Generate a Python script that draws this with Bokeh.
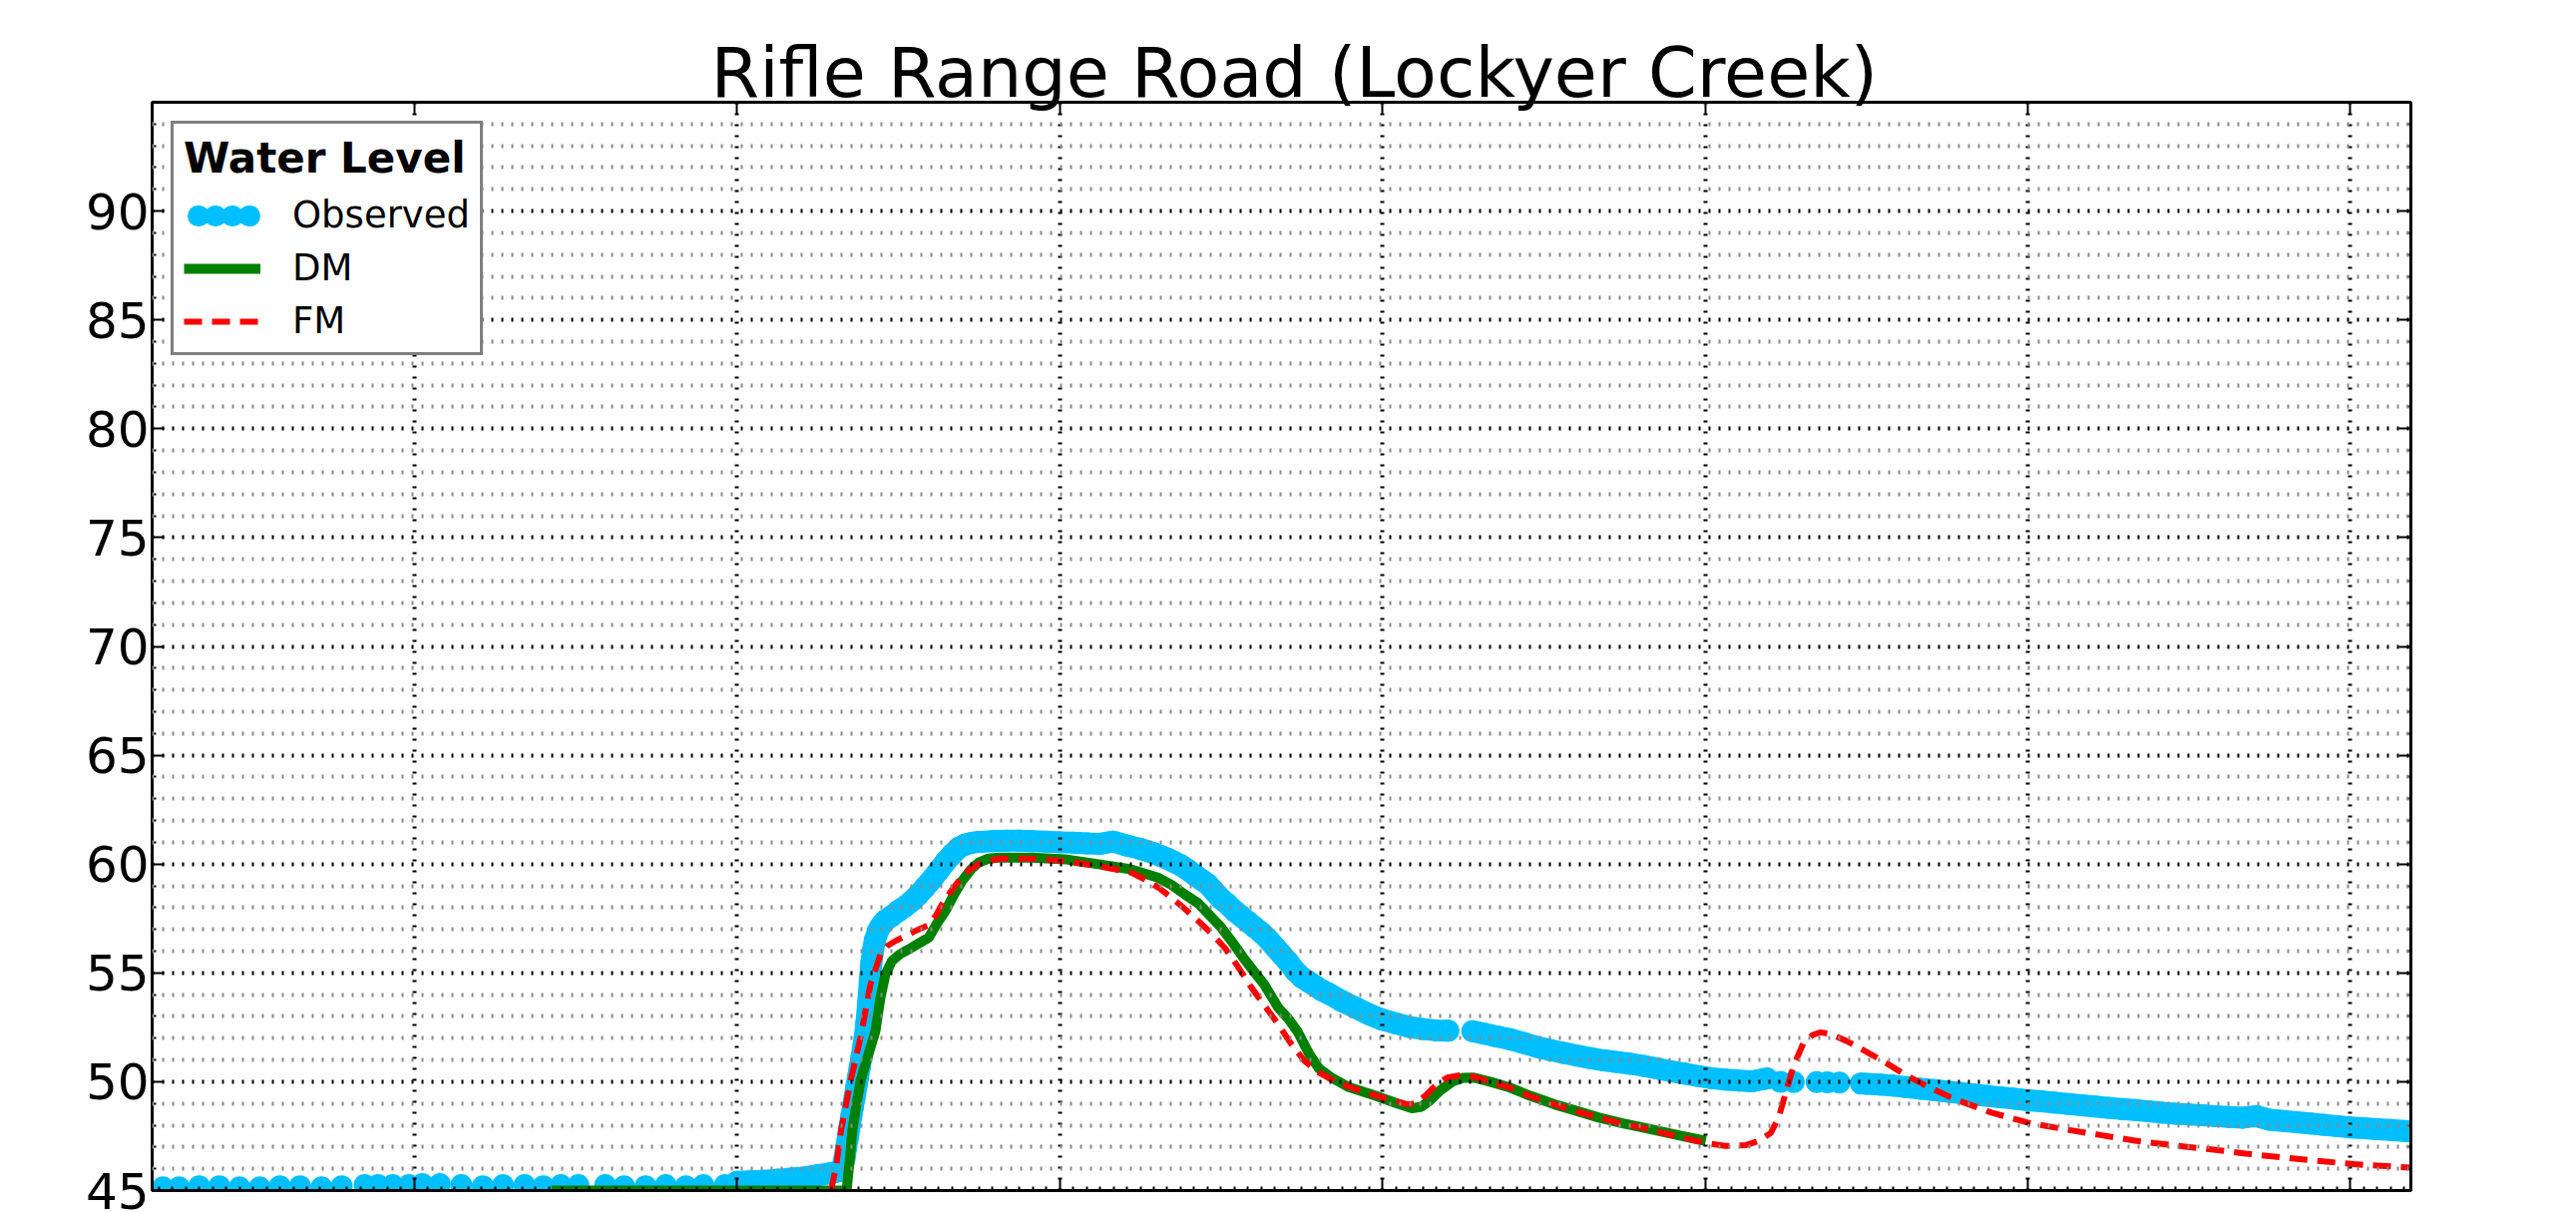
from bokeh.plotting import figure
from bokeh.models import FixedTicker, LinearAxis, Range1d, Legend, LegendItem
from bokeh.embed import file_html
from bokeh.resources import INLINE

# ---------------- data (hours since first midnight, water level) ----------------
obs_hours = [
    -18.7, -17.5, -16.0, -14.5, -13.0, -11.5, -10.0, -8.5, -6.9, -5.4,
    -3.7, -2.7, -1.6, -0.4, 0.6, 1.9, 3.5, 5.1, 6.6, 8.2,
    9.6, 10.9, 12.2, 14.2, 15.6, 17.2, 18.7, 20.2, 21.5, 23.1,
    24, 25, 26, 27, 28, 29, 30, 31, 31.5, 31.8,
    32.0, 32.125, 32.25, 32.375, 32.5, 32.625, 32.75, 32.875, 33.0, 33.125,
    33.25, 33.375, 33.5, 33.625, 33.75, 33.875, 34.0, 34.125, 34.25, 34.5,
    34.75, 35.0, 35.5, 36.0, 36.5, 37.0, 37.5, 38.0, 38.5, 39.0,
    39.5, 40.0, 40.5, 41.0, 41.5, 42.0, 43, 44, 45, 46,
    47, 48, 49, 50, 51, 52, 53, 54, 55, 55.5,
    56, 56.5, 57, 57.5, 58, 58.5, 59, 59.5, 60, 60.5,
    61, 61.5, 62, 62.5, 63, 63.5, 64, 64.5, 65, 65.5,
    66, 66.5, 67, 67.5, 68, 69, 70, 71, 72, 73,
    74, 75, 76, 76.9, 78.7, 79.5, 80.5, 81.5, 82.5, 83.5,
    84.5, 85.5, 86.5, 87.5, 88.5, 89.5, 90.5, 91.5, 92.5, 93.5,
    94.5, 95.5, 96.5, 97.5, 98.5, 99.5, 100.6, 101.6, 102.6, 104.3,
    105.1, 106.0, 107.6, 108, 109, 110, 111, 112, 113, 114,
    115, 116, 117, 118, 119, 120, 121, 122, 123, 124,
    125, 126, 127, 128, 129, 130, 131, 132, 133, 134,
    135, 136, 137, 138, 139, 140, 141, 142, 143, 144,
    145, 146, 147, 148, 148.5,
]
obs_level = [
    45.15, 45.15, 45.2, 45.2, 45.15, 45.15, 45.2, 45.2, 45.15, 45.2,
    45.25, 45.25, 45.25, 45.25, 45.3, 45.3, 45.25, 45.2, 45.25, 45.25,
    45.2, 45.25, 45.25, 45.25, 45.2, 45.2, 45.25, 45.2, 45.25, 45.25,
    45.4, 45.42, 45.45, 45.5, 45.55, 45.6, 45.7, 45.8, 45.88, 45.95,
    46.5, 47.0, 47.45, 47.95, 48.4, 48.85, 49.3, 49.75, 50.2, 50.65,
    51.1, 51.55, 52.05, 52.7, 53.6, 54.6, 55.5, 56.05, 56.5, 56.95,
    57.2, 57.4, 57.6, 57.85, 58.05, 58.3, 58.6, 58.95, 59.3, 59.7,
    60.1, 60.45, 60.75, 60.9, 60.98, 61.02, 61.05, 61.07, 61.07, 61.05,
    61.03, 61.0, 60.98, 60.95, 60.93, 61.03, 60.85, 60.7, 60.5, 60.38,
    60.25, 60.1, 59.95, 59.75, 59.52, 59.3, 59.08, 58.75, 58.4, 58.15,
    57.85, 57.6, 57.35, 57.1, 56.85, 56.55, 56.2, 55.85, 55.5, 55.1,
    54.8, 54.6, 54.4, 54.2, 54.05, 53.7, 53.4, 53.1, 52.85, 52.68,
    52.52, 52.42, 52.36, 52.34, 52.32, 52.22, 52.08, 51.95, 51.78, 51.6,
    51.45, 51.32, 51.2, 51.08, 50.98, 50.9, 50.82, 50.72, 50.6, 50.48,
    50.37, 50.26, 50.16, 50.1, 50.05, 50.02, 50.15, 49.99, 49.98, 49.98,
    49.97, 49.96, 49.92, 49.9, 49.87, 49.82, 49.75, 49.68, 49.62, 49.55,
    49.48, 49.41, 49.35, 49.28, 49.22, 49.15, 49.1, 49.04, 48.98, 48.92,
    48.86, 48.8, 48.75, 48.7, 48.64, 48.58, 48.53, 48.49, 48.46, 48.42,
    48.38, 48.35, 48.42, 48.25, 48.2, 48.14, 48.08, 48.02, 47.96, 47.9,
    47.86, 47.82, 47.78, 47.74, 47.72,
]
# stretches where the gauge logged densely enough to form a continuous band
obs_dense_spans = [(24, 76.9), (78.7, 100.6), (107.6, 148.5)]

dm_hours = [
    10.2, 32.15, 32.4, 32.57, 32.9, 33.19, 33.55, 33.93, 34.3, 34.67,
    35.04, 35.53, 36.1, 36.77, 37.5, 38.26, 38.9, 39.5, 40.1, 40.73,
    41.4, 41.97, 42.7, 43.45, 45.9, 48.4, 50.9, 53.3, 55.3, 56.3,
    57.3, 58.3, 59.0, 60.0, 60.8, 61.6, 62.4, 63.2, 64.25, 65.0,
    65.7, 66.57, 67.3, 68.22, 69.5, 71.5, 73.0, 74.2, 74.9, 75.5,
    76.3, 77.2, 78.0, 78.8, 80.0, 81.5, 83.0, 84.8, 86.5, 88.1,
    89.8, 91.4, 93.7, 96.05,
]
dm_level = [
    45.0, 45.0, 46.5, 47.74, 49.0, 50.04, 50.8, 51.57, 52.34, 53.87,
    54.94, 55.55, 55.85, 56.08, 56.35, 56.62, 57.3, 57.85, 58.55, 59.22,
    59.75, 60.07, 60.25, 60.3, 60.3, 60.22, 59.99, 59.76, 59.38, 59.05,
    58.61, 58.2, 57.75, 57.1, 56.45, 55.75, 55.1, 54.48, 53.41, 52.9,
    52.3, 51.26, 50.6, 50.19, 49.75, 49.35, 49.02, 48.78, 48.85, 49.12,
    49.6, 50.0, 50.18, 50.19, 50.0, 49.73, 49.35, 48.96, 48.65, 48.35,
    48.1, 47.89, 47.58, 47.28,
]

fm_hours = [
    31.0, 31.4, 31.75, 32.45, 33.19, 33.93, 34.67, 35.2, 35.79, 37.27,
    38.26, 38.8, 39.24, 39.9, 40.48, 41.2, 41.97, 43.45, 45.92, 48.4,
    50.87, 53.34, 54.58, 55.5, 56.31, 57.3, 58.3, 59.3, 60.28, 61.3,
    62.27, 63.3, 64.25, 65.2, 66.2, 67.2, 68.22, 69.8, 71.54, 73.85,
    74.5, 75.18, 76.0, 76.83, 77.8, 78.83, 80.0, 81.47, 83.0, 84.77,
    86.5, 88.1, 89.8, 91.4, 93.7, 96.05, 97.5, 99.0, 100.0, 100.9,
    101.5, 102.0, 102.6, 103.3, 104.0, 104.6, 105.3, 106.5, 108.0, 109.5,
    111.0, 112.5, 114.6, 117.3, 120.0, 122.7, 125.4, 128.1, 130.8, 133.5,
    136.2, 138.9, 141.6, 144.3, 148.5,
]
fm_level = [
    45.0, 46.2, 47.8, 50.04, 52.03, 54.48, 55.85, 56.25, 56.47, 56.93,
    57.2, 57.65, 58.15, 58.75, 59.22, 59.7, 59.99, 60.25, 60.25, 60.14,
    59.91, 59.61, 59.22, 58.85, 58.46, 57.95, 57.39, 56.8, 56.16, 55.25,
    54.32, 53.45, 52.64, 51.75, 50.96, 50.45, 50.11, 49.7, 49.35, 48.96,
    49.0, 49.35, 49.85, 50.19, 50.3, 50.22, 50.0, 49.73, 49.33, 48.96,
    48.62, 48.35, 48.08, 47.87, 47.52, 47.18, 47.05, 47.08, 47.28, 47.65,
    48.4, 49.5, 50.75, 51.75, 52.15, 52.27, 52.2, 51.88, 51.38, 50.85,
    50.28, 49.8, 49.19, 48.58, 48.12, 47.82, 47.55, 47.28, 47.08, 46.9,
    46.7, 46.52, 46.36, 46.21, 46.05,
]

x_major = [0, 24, 48, 72, 96, 120, 144]
x_minor = [h for h in range(-19, 149) if h % 24 != 0]
y_major = [45, 50, 55, 60, 65, 70, 75, 80, 85, 90]
y_labels = ["45", "50", "55", "60", "65", "70", "75", "80", "85", "90"]
y_minor = [v for v in range(46, 95) if v % 5 != 0]

OBS_COLOR = "#00BFFF"
DM_COLOR = "#008000"
FM_COLOR = "#FF0000"
FONT = "DejaVu Sans"
OBS_SIZE = 22

p = figure(width=2576, height=1215, output_backend="svg", toolbar_location=None,
           x_range=Range1d(-19.5, 148.5), y_range=Range1d(45, 95),
           min_border_left=152, min_border_right=160, min_border_top=102,
           min_border_bottom=22)
p.background_fill_color = "white"
p.border_fill_color = "white"
p.outline_line_color = "black"
p.outline_line_width = 3

p.title.text = "Rifle Range Road (Lockyer Creek)"
p.title.align = "left"
p.title.offset = 560
p.title.text_font = FONT
p.title.text_font_size = "70px"
p.title.text_font_style = "normal"
p.title.text_color = "black"
p.title.standoff = -23

xt = FixedTicker(ticks=x_major, minor_ticks=x_minor)
yt = FixedTicker(ticks=y_major, minor_ticks=y_minor)

x_bottom = p.xaxis[0]
y_left = p.yaxis[0]
x_top = LinearAxis()
y_right = LinearAxis()
p.add_layout(x_top, "above")
p.add_layout(y_right, "right")


def style_axis(ax, ticker, minor_len, show_labels):
    ax.ticker = ticker
    ax.axis_line_color = "black"
    ax.axis_line_width = 3
    ax.major_tick_line_color = "black"
    ax.major_tick_line_width = 2
    ax.major_tick_in = 12
    ax.major_tick_out = 0
    ax.minor_tick_line_color = "black" if minor_len else None
    ax.minor_tick_line_width = 2
    ax.minor_tick_in = minor_len
    ax.minor_tick_out = 0
    if show_labels:
        ax.major_label_overrides = {t: s for t, s in zip(y_major, y_labels)}
        ax.major_label_text_font = FONT
        ax.major_label_text_font_size = "50px"
        ax.major_label_text_color = "black"
        ax.major_label_standoff = 3
    else:
        ax.major_label_overrides = {t: "" for t in ticker.ticks}
        ax.major_label_text_font_size = "0px"
        ax.major_label_standoff = 0


style_axis(x_bottom, xt, 4, False)
style_axis(x_top, xt, 0, False)
style_axis(y_left, yt, 4, True)
style_axis(y_right, yt, 4, False)

p.xgrid.ticker = xt
p.ygrid.ticker = yt
p.xgrid.grid_line_color = "black"
p.xgrid.grid_line_width = 4
p.xgrid.grid_line_dash = "2 9"
p.ygrid.grid_line_color = "black"
p.ygrid.grid_line_width = 4
p.ygrid.grid_line_dash = "2 8"
p.ygrid.minor_grid_line_color = "#8a8a8a"
p.ygrid.minor_grid_line_width = 4
p.ygrid.minor_grid_line_dash = "2 8"
p.xgrid.level = "guide"
p.ygrid.level = "guide"

# observed: round-joined band under the markers where the samples are dense
for lo, hi in obs_dense_spans:
    seg = [(h, v) for h, v in zip(obs_hours, obs_level) if lo <= h <= hi]
    p.line([s[0] for s in seg], [s[1] for s in seg], line_color=OBS_COLOR,
           line_width=OBS_SIZE, line_cap="round", line_join="round")
obs_r = p.scatter(obs_hours, obs_level, size=OBS_SIZE, fill_color=OBS_COLOR,
                  line_color=OBS_COLOR, line_width=0)
dm_r = p.line(dm_hours, dm_level, line_color=DM_COLOR, line_width=10,
              line_join="round")
fm_r = p.line(fm_hours, fm_level, line_color=FM_COLOR, line_width=6,
              line_dash="18 10")

# legend key for observed: a row of dots from a round-capped dotted line
# (a single point, so nothing is drawn inside the plot area)
obs_key = p.line(x=obs_hours[:1], y=obs_level[:1], line_color=OBS_COLOR,
                 line_width=21, line_cap="round", line_dash="1 16",
                 line_dash_offset=3)

legend = Legend(
    items=[LegendItem(label="Observed", renderers=[obs_key]),
           LegendItem(label="DM", renderers=[dm_r]),
           LegendItem(label="FM", renderers=[fm_r])],
    location="top_left", margin=19, padding=10, spacing=10,
    title="Water Level", title_text_font=FONT, title_text_font_size="42px",
    title_text_font_style="bold", title_text_color="black", title_standoff=11,
    label_text_font=FONT, label_text_font_size="37px", label_text_color="black",
    label_standoff=32, label_height=36, glyph_width=77, glyph_height=36,
    border_line_color="black", border_line_width=3,
    background_fill_color="white", background_fill_alpha=1.0,
)
p.add_layout(legend)

open("out.html", "w").write(file_html(p, INLINE))
